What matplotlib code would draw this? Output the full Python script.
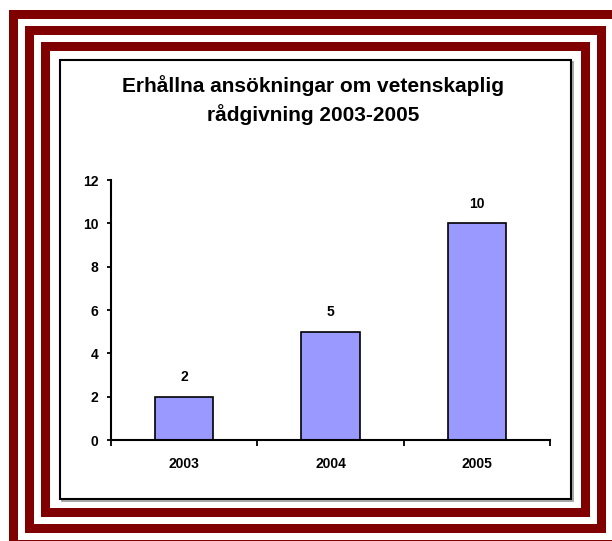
import matplotlib
matplotlib.use("Agg")
import matplotlib.pyplot as plt
from matplotlib.patches import Rectangle

plt.rcParams['font.family'] = ['Liberation Sans', 'DejaVu Sans']

years = ["2003", "2004", "2005"]
counts = [2, 5, 10]
y_ticks = [0, 2, 4, 6, 8, 10, 12]
title = "Erhållna ansökningar om vetenskaplig\nrådgivning 2003-2005"

W, H = 612, 541
fig = plt.figure(figsize=(W / 100, H / 100), dpi=100)
fig.patch.set_facecolor("white")

# Decorative frame layer in pixel coordinates
deco = fig.add_axes([0, 0, 1, 1], zorder=0)
deco.set_xlim(0, W)
deco.set_ylim(H, 0)
deco.axis("off")

red = "#800000"
bands = [(9, 10, 622, 549), (25, 26, 606, 533), (41, 42, 590, 517)]
t = 9
for (x0, y0, x1, y1) in bands:
    deco.add_patch(Rectangle((x0, y0), x1 - x0, y1 - y0, facecolor=red, lw=0))
    deco.add_patch(Rectangle((x0 + t, y0 + t), x1 - x0 - 2 * t, y1 - y0 - 2 * t,
                             facecolor="white", lw=0))

# chart frame with soft shadow
deco.add_patch(Rectangle((61.5, 61.5), 511, 439, facecolor="none",
                         edgecolor="#9a9a9a", lw=1.2))
deco.add_patch(Rectangle((60, 60), 511, 439, facecolor="white",
                         edgecolor="black", lw=1.5))

deco.text(313, 100, title, ha="center", va="center", fontsize=15,
          fontweight="bold", linespacing=1.45)

# Bar chart
fs = 10
ax = fig.add_axes([111 / W, (H - 440) / H, 439 / W, 260 / H], zorder=1)
ax.patch.set_alpha(0)
x = list(range(len(years)))
ax.bar(x, counts, width=0.4, color="#9999FF", edgecolor="black", linewidth=1.2)
for xi, v in zip(x, counts):
    ax.annotate(str(v), (xi, v), xytext=(0, 9), textcoords="offset points",
                ha="center", va="bottom", fontsize=fs, fontweight="bold")

ax.set_xlim(-0.5, len(years) - 0.5)
ax.set_ylim(0, 12)
ax.set_yticks(y_ticks)
ax.set_yticklabels([str(v) for v in y_ticks], fontsize=fs, fontweight="bold")
ax.set_xticks(x)
ax.set_xticklabels(years, fontsize=fs, fontweight="bold")
ax.set_xticks([i - 0.5 for i in range(len(years) + 1)], minor=True)
ax.tick_params(axis="x", which="major", length=0, pad=12)
ax.tick_params(axis="x", which="minor", length=4, width=1.3, direction="out")
ax.tick_params(axis="y", length=3, width=1.3, direction="out", pad=6)
for s in ("top", "right"):
    ax.spines[s].set_visible(False)
for s in ("left", "bottom"):
    ax.spines[s].set_linewidth(1.5)

fig.savefig("out.png", dpi=100)
